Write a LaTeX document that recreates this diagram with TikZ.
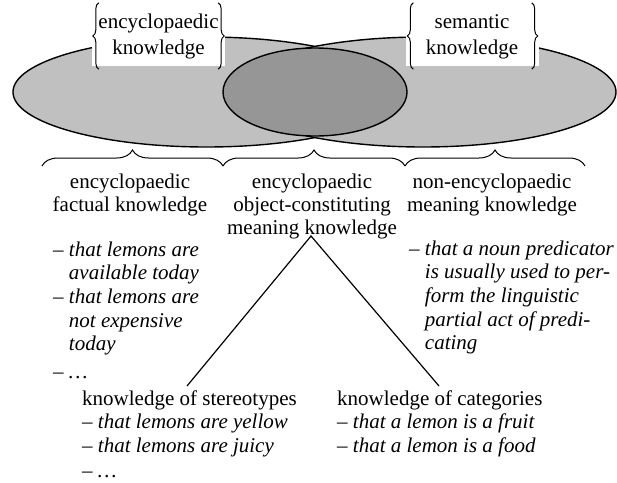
\documentclass[tikz,border=0pt]{standalone}
\usepackage{fontspec}
\setmainfont{Liberation Serif}
\usetikzlibrary{decorations.pathreplacing}
\definecolor{lightfill}{RGB}{192,192,192}
\definecolor{darkfill}{RGB}{150,150,150}
\newcommand\myind{\hphantom{–\ }}
\begin{document}
\begin{tikzpicture}[x=1pt,y=-1pt,
  ell/.style={draw=black, line width=1.4pt},
  brc/.style={decorate, decoration={brace, amplitude=#1}, line width=1pt},
  titlebox/.style={fill=white, inner sep=0pt, minimum width=133pt, minimum height=60pt,
    font=\fontsize{21}{26}\selectfont},
  head/.style={inner sep=0pt, font=\fontsize{21}{23}\selectfont},
  lst/.style={inner sep=0pt, font=\fontsize{21}{23.7}\selectfont},
  conn/.style={draw=black, line width=1.2pt}]
\useasboundingbox (0,0) rectangle (617,482);
% ellipses
\draw[ell, fill=lightfill] (206.5,92) ellipse [x radius=193.5, y radius=55];
\draw[ell, fill=lightfill] (423,92) ellipse [x radius=193, y radius=55];
\draw[ell, fill=darkfill] (315,92) ellipse [x radius=92, y radius=44];
% title boxes
\node[titlebox] (enc) at (158.5,36) {\begin{tabular}{@{}c@{}}encyclopaedic\\knowledge\end{tabular}};
\node[titlebox] (sem) at (472,36) {\begin{tabular}{@{}c@{}}semantic\\knowledge\end{tabular}};
\draw[brc=6] ([xshift=7pt,yshift=-3pt]enc.south west) -- ([xshift=7pt,yshift=3pt]enc.north west);
\draw[brc=6] ([xshift=-7pt,yshift=3pt]enc.north east) -- ([xshift=-7pt,yshift=-3pt]enc.south east);
\draw[brc=6] ([xshift=8pt,yshift=-3pt]sem.south west) -- ([xshift=8pt,yshift=3pt]sem.north west);
\draw[brc=6] ([xshift=-7pt,yshift=3pt]sem.north east) -- ([xshift=-7pt,yshift=-3pt]sem.south east);
% bottom braces
\coordinate (b0) at (42,166);
\coordinate (b1) at (223,166);
\coordinate (b2) at (405,166);
\coordinate (b3) at (585,166);
\draw[brc=16] (b0) -- (b1);
\draw[brc=16] (b1) -- (b2);
\draw[brc=16] (b2) -- (b3);
% headings
\node[head, anchor=base] (h1) at (130,188) {\begin{tabular}[t]{@{}c@{}}encyclopaedic\\factual knowledge\end{tabular}};
\node[head, anchor=base] (h2) at (312,188) {\begin{tabular}[t]{@{}c@{}}encyclopaedic\\object-constituting\\meaning knowledge\end{tabular}};
\node[head, anchor=base] (h3) at (492,188) {\begin{tabular}[t]{@{}c@{}}non-encyclopaedic\\meaning knowledge\end{tabular}};
% lists
\node[lst, anchor=base west] (l1) at (53,256) {\itshape\begin{tabular}[t]{@{}l@{}}
– that lemons are\\ \myind available today\\ – that lemons are\\ \myind not expensive\\ \myind today\\[4pt] – …\end{tabular}};
\node[lst, anchor=base west] (l3) at (409,255) {\itshape\begin{tabular}[t]{@{}l@{}}
– that a noun predicator\\ \myind is usually used to per-\\ \myind form the linguistic\\ \myind partial act of predi-\\ \myind cating\end{tabular}};
\node[lst, anchor=base west] (st) at (82,405) {\begin{tabular}[t]{@{}l@{}}
knowledge of stereotypes\\ \textit{– that lemons are yellow}\\ \textit{– that lemons are juicy}\\[1pt] \textit{– …}\end{tabular}};
\node[lst, anchor=base west] (ct) at (337,405) {\begin{tabular}[t]{@{}l@{}}
knowledge of categories\\ \textit{– that a lemon is a fruit}\\ \textit{– that a lemon is a food}\end{tabular}};
% connectors
\coordinate (apex) at (311,236);
\coordinate (stend) at (187,386);
\coordinate (ctend) at (439,386);
\draw[conn] (stend) -- (apex) -- (ctend);
\end{tikzpicture}
\end{document}
